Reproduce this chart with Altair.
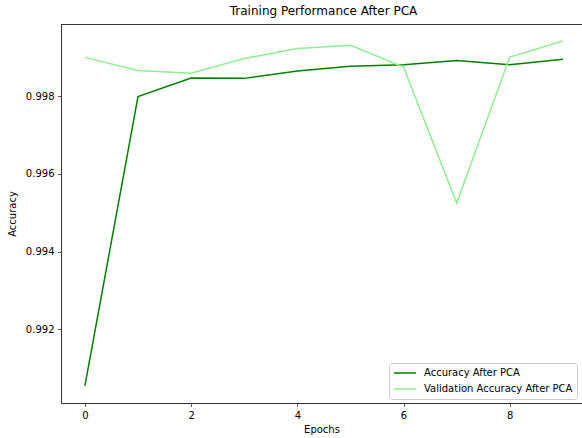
import altair as alt
import pandas as pd

# Per-epoch accuracy after PCA
epochs = [0, 1, 2, 3, 4, 5, 6, 7, 8, 9]
accuracy = [0.99055, 0.99799, 0.99847, 0.99846, 0.99865, 0.99877, 0.99881, 0.99892, 0.99881, 0.99895]
val_accuracy = [0.99900, 0.99866, 0.99859, 0.99897, 0.99923, 0.99931, 0.99875, 0.99525, 0.99901, 0.99942]

series_names = ["Accuracy After PCA", "Validation Accuracy After PCA"]
series_colors = ["green", "lightgreen"]
y_ticks = [0.992, 0.994, 0.996, 0.998]
x_ticks = [0, 2, 4, 6, 8]

rows = []
for e, a, v in zip(epochs, accuracy, val_accuracy):
    rows.append({"Epoch": e, "Accuracy": a, "Series": series_names[0]})
    rows.append({"Epoch": e, "Accuracy": v, "Series": series_names[1]})
df = pd.DataFrame(rows)

FONT = "DejaVu Sans"
W, H = 521, 379

lines = alt.Chart(df).mark_line(strokeWidth=1.5).encode(
    x=alt.X(
        "Epoch:Q",
        title="Epochs",
        scale=alt.Scale(domain=[-0.45, 9.36], nice=False, zero=False),
        axis=alt.Axis(values=x_ticks, format="d", grid=False, titlePadding=4),
    ),
    y=alt.Y(
        "Accuracy:Q",
        title="Accuracy",
        scale=alt.Scale(domain=[0.990107, 0.999859], nice=False, zero=False),
        axis=alt.Axis(values=y_ticks, format=".3f", grid=False, titlePadding=8),
    ),
    color=alt.Color(
        "Series:N",
        scale=alt.Scale(domain=series_names, range=series_colors),
        legend=alt.Legend(
            title=None,
            orient="none",
            legendX=328,
            legendY=339,
            symbolType="stroke",
            symbolSize=484,
            symbolStrokeWidth=1.5,
            clipHeight=12,
            rowPadding=4,
            labelFontSize=10,
            labelFont=FONT,
            labelColor="black",
            labelOffset=7,
            padding=4,
            fillColor="white",
            strokeColor="#cccccc",
            cornerRadius=3,
        ),
    ),
    order=alt.Order("Epoch:Q"),
)

# top frame line of the plot area
top_border = alt.Chart(df).mark_rule(color="#333333", strokeWidth=1).encode(
    x=alt.value(0), x2=alt.value(W), y=alt.value(0.5)
)

chart = alt.layer(lines, top_border).properties(
    width=W,
    height=H,
    autosize=alt.AutoSizeParams(type="none"),
    padding={"left": 61, "top": 24, "right": 0, "bottom": 35},
    title=alt.TitleParams(
        "Training Performance After PCA",
        fontSize=12,
        font=FONT,
        fontWeight="normal",
        color="black",
        anchor="middle",
        frame="group",
        offset=6,
        dx=2,
    ),
).configure_view(
    stroke=None
).configure_axis(
    labelFont=FONT,
    titleFont=FONT,
    labelFontSize=10,
    titleFontSize=10,
    titleFontWeight="normal",
    labelColor="black",
    titleColor="black",
    domainColor="#333333",
    domainWidth=1,
    tickColor="#333333",
    tickSize=3.5,
    tickWidth=0.8,
    labelPadding=3.5,
)

chart.save("out.html", embed_options={"renderer": "svg", "actions": False})
